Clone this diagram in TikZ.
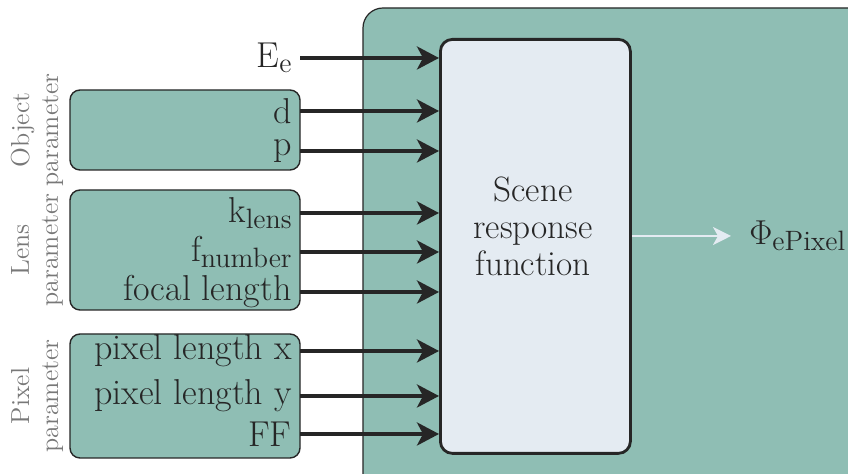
\documentclass[tikz,border=0pt]{standalone}
\usetikzlibrary{arrows.meta}
\definecolor{teal}{RGB}{143,190,180}
\definecolor{pale}{RGB}{228,235,242}
\definecolor{ink}{RGB}{38,38,38}
\definecolor{soft}{RGB}{120,120,120}
% lowered roman index at a fixed size
\newcommand\lowidx[1]{\raisebox{-2.8pt}{\fontsize{14}{14}\selectfont #1}}
\tikzset{
  group/.style={draw=ink, line width=0.7pt, fill=teal, rounded corners=5pt},
  param/.style={anchor=east, inner xsep=4pt, inner ysep=0.5pt, text=ink, font=\fontsize{18}{21}\selectfont},
  side/.style={rotate=90, text=soft, align=center, font=\fontsize{13}{14.5}\selectfont},
  feed/.style={draw=ink, line width=1.8pt, -{Stealth[length=11pt, width=11.5pt, inset=3pt]}},
  outflow/.style={draw=pale, line width=1.1pt, -{Stealth[length=9pt, width=9pt, inset=2.5pt]}}
}
\begin{document}
\begin{tikzpicture}[x=0.5pt, y=-0.5pt]
  \clip (0,0) rectangle (848,474);
  \fill[white] (0,0) rectangle (848,474);
  % outer module
  \draw[draw=ink, line width=0.6pt, fill=teal, rounded corners=10pt] (363,8) rectangle (880,500);
  % parameter groups
  \draw[group] (70,90) rectangle (300,170);
  \draw[group] (70,190) rectangle (300,310);
  \draw[group] (70,334) rectangle (300,458);
  \node[side] (objlbl) at (37,130) {Object\\parameter};
  \node[side] (lenslbl) at (37,250) {Lens\\parameter};
  \node[side] (pixlbl) at (37,396) {Pixel\\parameter};
  % scene response block
  \node[draw=ink, line width=1.4pt, fill=pale, rounded corners=6pt,
        minimum width=95pt, minimum height=207pt, anchor=north west] (srf) at (439,38) {};
  \node[align=center, text=ink, font=\fontsize{17.6}{18.5}\selectfont] (srftext) at (533,226)
        {Scene\\response\\function};
  % inputs
  \node[param] (ee) at (300,58) {E\lowidx{e}};
  \node[param] (d) at (300,111) {d};
  \node[param] (p) at (300,151) {p};
  \node[param] (kl) at (300,213) {k\lowidx{lens}};
  \node[param] (fn) at (300,252) {f\lowidx{number}};
  \node[param] (fl) at (300,292) {focal length};
  \node[param] (px) at (300,351) {pixel length x};
  \node[param] (py) at (300,396) {pixel length y};
  \node[param] (ff) at (300,434) {FF};
  \foreach \n in {ee,d,p,kl,fn,fl,px,py,ff}
    \draw[feed] (\n.east) -- (\n.east -| srf.west);
  % output
  \node[anchor=west, inner sep=0pt, text=ink, font=\fontsize{17}{20}\selectfont] (phi) at (749,236) {$\Phi$\lowidx{ePixel}};
  \draw[outflow] (srf.east |- phi.west) -- ([xshift=-9pt]phi.west);
\end{tikzpicture}
\end{document}
